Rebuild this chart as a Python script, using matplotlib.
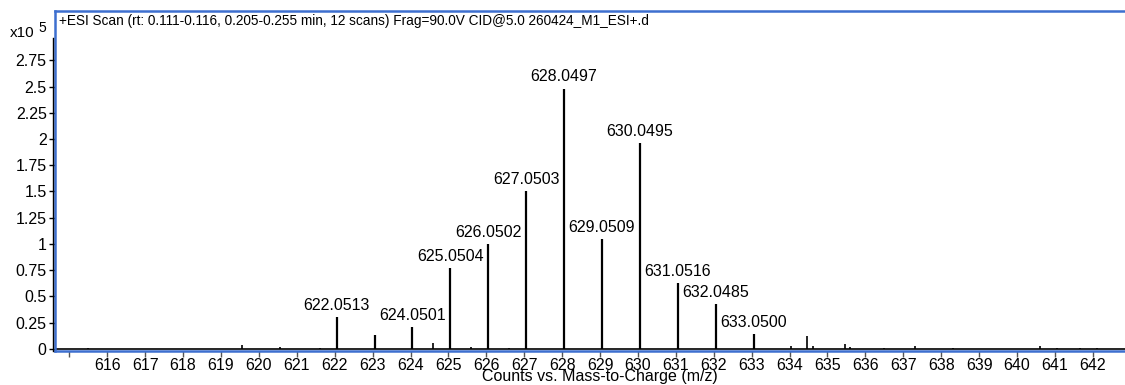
import matplotlib
matplotlib.use("Agg")
import matplotlib.pyplot as plt
from matplotlib.lines import Line2D
from matplotlib.ticker import FuncFormatter

plt.rcParams['font.family'] = ['Liberation Sans', 'DejaVu Sans']

# Labelled isotope peaks (m/z, counts x10^5)
labelled_mz = [622.0513, 623.05, 624.0501, 625.0504, 626.0502, 627.0503,
               628.0497, 629.0509, 630.0495, 631.0516, 632.0485, 633.0500]
labelled_int = [0.30, 0.13, 0.21, 0.77, 1.00, 1.50,
                2.48, 1.05, 1.96, 0.63, 0.43, 0.14]
show_label = [True, False, True, True, True, True,
              True, True, True, True, True, True]

# Minor peaks and noise
minor_mz = [615.5, 619.55, 620.55, 621.6, 624.6, 625.6, 626.6, 634.05,
            634.45, 634.62, 635.45, 635.6, 636.5, 637.3, 638.3, 640.6,
            641.05, 641.65, 642.1]
minor_int = [0.01, 0.035, 0.015, 0.008, 0.055, 0.02, 0.01, 0.03,
             0.125, 0.025, 0.045, 0.015, 0.012, 0.025, 0.01, 0.025,
             0.01, 0.012, 0.012]

x_ticks = list(range(615, 643))
x_ticklabels = [""] + [str(t) for t in range(616, 643)]
y_ticks = [0, 0.25, 0.5, 0.75, 1, 1.25, 1.5, 1.75, 2, 2.25, 2.5, 2.75]

title = "+ESI Scan (rt: 0.111-0.116, 0.205-0.255 min, 12 scans) Frag=90.0V CID@5.0 260424_M1_ESI+.d"
xlabel = "Counts vs. Mass-to-Charge (m/z)"

W, H = 1125, 385
fig = plt.figure(figsize=(W / 100, H / 100), dpi=100)
ax = fig.add_axes([55 / W, 1 - 351 / H, 1 - 55 / W, 340 / H])

ax.set_xlim(614.62, 642.85)
ax.set_ylim(-0.02, 3.22)

# baseline and peaks
ax.axhline(0, color='black', lw=1.2, zorder=2)
ax.vlines(labelled_mz, 0, labelled_int, color='black', lw=1.6, zorder=3)
ax.vlines(minor_mz, 0, minor_int, color='black', lw=1.2, zorder=3)

for mz, h, s in zip(labelled_mz, labelled_int, show_label):
    if s:
        ax.annotate(f"{mz:.4f}", (mz, h), xytext=(0, 3), textcoords='offset points',
                    ha='center', va='bottom', fontsize=11.5)

blue = '#3d6fcf'
for side in ['top', 'left', 'bottom']:
    ax.spines[side].set_color(blue)
    ax.spines[side].set_linewidth(1.8)
ax.spines['right'].set_visible(False)

ax.set_xticks(x_ticks)
ax.set_xticklabels(x_ticklabels)
ax.tick_params(axis='x', length=4, width=1, color='#555555', pad=1, labelsize=11.5)

ax.set_yticks(y_ticks)
ax.yaxis.set_major_formatter(FuncFormatter(lambda v, p: f"{v:g}"))
ax.tick_params(axis='y', length=4, width=1, color='black', pad=2, labelsize=11.5)

# axis title below the tick labels
fig.text(600 / W, 1 - 384 / H, xlabel, fontsize=11.5, ha='center', va='bottom')

ax.text(0.004, 0.99, title, transform=ax.transAxes, ha='left', va='top', fontsize=9.8)

# exponent marker
fig.text(10 / W, 1 - 33 / H, "x10", fontsize=11, ha='left', va='center')
fig.text(38 / W, 1 - 28 / H, "5", fontsize=10, ha='left', va='center')

# black y axis line next to the frame
fig.add_artist(Line2D([53 / W, 53 / W], [1 - 351 / H, 1 - 38 / H],
                      color='black', lw=1, transform=fig.transFigure))

fig.savefig("out.png", dpi=100, facecolor='white')
